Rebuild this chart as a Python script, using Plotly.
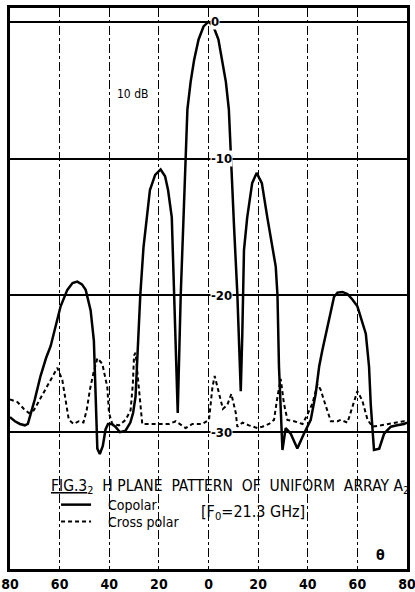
import plotly.graph_objects as go

# ---- data (angle in degrees, level in dB) ----
copolar_theta = [-80, -78, -76, -74, -72.8, -71.5, -70, -67.7, -65.5, -63.6, -61.5, -59.6, -56.9, -54.8,
                 -52.9, -51, -49.5, -47.5, -46.2, -45.5, -44.8, -43.8, -42.6, -41.5, -40.5, -39, -37.5,
                 -35.7, -33.5, -31.5, -30.4, -29.4, -28.6, -27.5, -26.2, -24.9, -23.6, -21.5, -19.3,
                 -17.5, -16.3, -14.8, -13.8, -13.0, -12.4, -11.9, -11.2, -10.2, -9.2, -8.5, -7.2, -5.8,
                 -4.0, -2.0, 0, 2.0, 4.0, 5.6, 7.0, 8.2, 9.2, 10.3, 11.6, 12.4, 13.0, 13.6, 14.3, 15.6,
                 17.6, 19.4, 21.5, 23.7, 25.5, 27.1, 27.8, 28.4, 29.8, 31.1, 33.1, 35.8, 38.5, 41.2,
                 43.2, 44.6, 45.9, 47.3, 49.3, 50.6, 52, 54, 56, 58, 60, 62, 63.4, 64.7, 65.4, 66.7,
                 68.8, 70.8, 73.5, 76, 78.8, 80]
copolar_db = [-28.9, -29.2, -29.4, -29.5, -29.4, -28.6, -27.6, -25.9, -24.6, -23.7, -22.2, -20.8, -19.6,
              -19.1, -19.0, -19.2, -19.6, -21.1, -23.3, -27.0, -31.2, -31.6, -31.0, -29.8, -29.4, -29.4,
              -29.6, -30.0, -29.9, -29.3, -28.6, -27.4, -24.0, -20.0, -16.5, -14.3, -12.3, -11.2, -10.8,
              -11.3, -12.3, -14.3, -19.5, -25.0, -28.6, -25.0, -20.0, -15.0, -10.0, -6.4, -4.4, -2.8,
              -1.3, -0.35, 0, -0.35, -1.3, -2.8, -4.4, -6.4, -10.0, -15.0, -19.8, -24.0, -27.0, -23.0,
              -16.7, -14.3, -11.8, -11.05, -11.8, -14.3, -16.3, -17.9, -20.0, -25.2, -31.3, -29.7,
              -30.1, -31.2, -30.1, -29.1, -27.2, -25.2, -24.0, -22.8, -21.1, -20.1, -19.8, -19.75,
              -19.9, -20.3, -20.8, -22.0, -22.8, -25.2, -28.0, -31.3, -31.2, -30.1, -29.6, -29.5,
              -29.4, -29.3]

crosspolar_theta = [-80, -77, -74.4, -72.4, -70.4, -67.7, -65, -62.3, -60.9, -58.9, -57.6, -56.3, -54.3,
                    -52.2, -50.4, -49.1, -47.8, -46.4, -44.8, -42.8, -40.8, -40.1, -38.8, -36.1, -33.4,
                    -31.4, -30.5, -30.0, -29.4, -28.0, -26.7, -24, -19.9, -15.9, -13.2, -10.5, -9.2,
                    -6.5, -2.5, 0.2, 1.6, 2.5, 4.2, 5.8, 7.6, 9.2, 11.0, 11.6, 13.7, 16.3, 19.7, 21.7,
                    24.4, 26.4, 27.8, 29.1, 30.4, 31.8, 34.5, 37.9, 39.9, 41.9, 43.9, 45.2, 47.3, 49.3,
                    52, 53.3, 56, 58, 60, 62, 64.1, 66.1, 69.4, 73.5, 76.2, 78.8, 80]
crosspolar_db = [-27.6, -27.8, -28.3, -28.6, -28.4, -27.5, -26.6, -25.7, -25.3, -26.2, -27.6, -29.1, -29.4,
                 -29.2, -29.3, -28.4, -26.9, -25.7, -24.6, -25.0, -26.7, -28.6, -29.4, -29.5, -29.1,
                 -28.4, -26.5, -24.4, -24.2, -26.7, -29.4, -29.4, -29.4, -29.4, -29.2, -29.5, -29.7,
                 -29.4, -29.4, -29.1, -26.7, -25.9, -27.2, -28.3, -28.0, -27.2, -28.6, -29.6, -29.3,
                 -29.5, -29.7, -29.6, -29.4, -29.1, -27.4, -26.1, -27.9, -29.1, -29.2, -29.4, -28.7,
                 -27.9, -26.5, -26.9, -28.1, -29.2, -29.2, -29.1, -29.3, -28.1, -27.0, -27.7, -29.1,
                 -29.6, -29.5, -29.4, -29.3, -29.2, -29.3]

x_tickvals = [-80, -60, -40, -20, 0, 20, 40, 60, 80]
x_ticktext = ["80", "60", "40", "20", "0", "20", "40", "60", "80"]
y_gridvals = [0, -10, -20, -30]
y_labels = ["0", "-10", "-20", "-30"]

FONT = "DejaVu Sans Condensed, Liberation Sans Narrow, sans-serif"
NBSP = "\u00a0"

fig = go.Figure()
fig.add_trace(go.Scatter(x=copolar_theta, y=copolar_db, mode="lines", name=NBSP * 3 + "Copolar",
                         legend="legend",
                         line=dict(color="black", width=2.5, shape="linear")))
fig.add_trace(go.Scatter(x=crosspolar_theta, y=crosspolar_db, mode="lines", name=NBSP * 3 + "Cross polar",
                         legend="legend2",
                         line=dict(color="black", width=2, dash="4px,3px", shape="linear")))

# y labels placed inside the plot, right of the 0° line
for v, t in zip(y_gridvals, y_labels):
    fig.add_annotation(x=0.6, y=v, text=t, showarrow=False, xanchor="left",
                       yanchor="middle", bgcolor="white", borderpad=0,
                       font=dict(family=FONT, size=13, color="black", weight="bold"))

fig.add_annotation(x=-30.8, y=-5.3, text="10 dB", showarrow=False,
                   font=dict(family=FONT, size=12, color="black"))
fig.add_annotation(x=-64.3, y=-34.0, xanchor="left",
                   text="<u>FIG.3</u><sub>2</sub>  H PLANE  PATTERN  OF  UNIFORM  ARRAY A<sub>2</sub>",
                   showarrow=False, font=dict(family=FONT, size=15.5, color="black"))
fig.add_annotation(x=17.8, y=-35.9, text="[F<sub>0</sub>=21.3 GHz]", showarrow=False,
                   font=dict(family=FONT, size=16, color="black"))
fig.add_annotation(x=69.4, y=-39.0, text="θ", showarrow=False,
                   font=dict(family=FONT, size=14, color="black", weight="bold"))

leg_common = dict(xanchor="left", yanchor="middle", bgcolor="rgba(0,0,0,0)",
                  font=dict(family=FONT, size=14, color="black"), itemwidth=30)
fig.update_layout(
    width=415, height=592,
    margin=dict(l=10, r=8, t=8, b=23),
    paper_bgcolor="white", plot_bgcolor="white",
    showlegend=True,
    legend=dict(x=0.116, y=0.114, **leg_common),
    legend2=dict(x=0.116, y=0.084, **leg_common),
    font=dict(family=FONT, color="black"),
)
fig.update_xaxes(range=[-80, 80], tickvals=x_tickvals, ticktext=x_ticktext, automargin=False,
                 ticklabeloverflow="allow",
                 showgrid=True, gridcolor="black", gridwidth=1, griddash="dashdot",
                 zeroline=False, showline=True, linecolor="black", linewidth=2.5, mirror=True,
                 ticks="", tickfont=dict(family=FONT, size=14, color="black", weight="bold"))
fig.update_yaxes(range=[-40, 1], tickvals=y_gridvals, showticklabels=False, automargin=False,
                 showgrid=True, gridcolor="black", gridwidth=1.6,
                 zeroline=False, showline=True, linecolor="black", linewidth=2.5, mirror=True,
                 ticks="")

fig.write_html("out.html", config={"displayModeBar": False},
               post_script="document.body.style.margin='0px';")
